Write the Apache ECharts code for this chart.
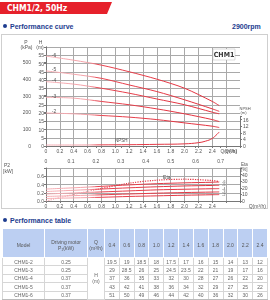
<!DOCTYPE html>
<html><head><meta charset="utf-8">
<script src="https://cdn.jsdelivr.net/npm/echarts@6/dist/echarts.min.js"></script>
<style>
html,body{margin:0;padding:0;width:270px;height:300px;overflow:hidden;background:#fff;font-family:'Liberation Sans',Arial,sans-serif;-webkit-font-smoothing:antialiased;}
#banner{position:absolute;left:0;top:2px;width:112px;height:12px;background:#e6212b;clip-path:polygon(0 0,100% 0,calc(100% - 5px) 100%,0 100%);}
#banner span{position:absolute;left:7px;top:1px;color:#fff;font-weight:bold;font-size:8.5px;line-height:10px;font-family:'Liberation Sans Narrow','DejaVu Sans Condensed','Roboto Condensed','Liberation Sans',sans-serif;font-stretch:condensed;}
.sec{position:absolute;left:3px;color:#1d3c8f;font-weight:bold;font-size:7px;line-height:8px;white-space:nowrap}
.sec i{display:inline-block;width:4px;height:4px;border-radius:50%;background:#1d3c8f;margin-right:3px;vertical-align:1px}
#rpm{position:absolute;left:232px;top:23px;color:#1d3c8f;font-weight:bold;font-size:7px;line-height:8px}
#box{position:absolute;left:1px;top:34px;width:265px;height:173px;border:1px solid #cfcfcf;}
#chart{position:absolute;left:0;top:0;width:270px;height:215px;opacity:0.999;will-change:transform;}
#tblwrap{position:absolute;left:2px;top:228px;width:266px;opacity:0.999;will-change:transform;}
#tbl{width:266px;border-collapse:collapse;table-layout:fixed;font-size:5px;color:#666;}
#tbl th{background:#bccff2;border:1px solid #fff;font-weight:normal;color:#555;height:25px;padding:3px 0 0 0;line-height:6px;text-align:center;}
#tbl td{border:1px solid #d6d6d6;height:7.4px;padding:0;line-height:6px;text-align:center;}
#tbl tbody tr:last-child td{border-bottom:1px solid #bbb}
</style></head>
<body>
<div id="banner"><span>CHM1/2, 50Hz</span></div>
<div class="sec" style="top:23px"><i></i>Performance curve</div>
<div id="rpm">2900rpm</div>
<div id="box"></div>
<div id="chart"></div>
<div class="sec" style="top:217px"><i></i>Performance table</div>
<div id="tblwrap"><table id="tbl"></table></div>
<script>
// ---------- data ----------
const curveNames = ['-2', '-3', '-4', '-5', '-6'];
const qCurve = [0, 0.4, 0.8, 1.2, 1.6, 2.0, 2.4, 2.5];          // m³/h
const headM2 = [20, 19.5, 18.5, 17.5, 16, 14, 12, 11.2];          // m
const headM3 = [29.5, 29, 27, 25, 22.5, 19.5, 16, 14.8];
const headM4 = [39, 37.5, 35, 32, 28.5, 25, 20.5, 19.5];
const headM5 = [45.5, 43.5, 41, 37, 33, 28, 22.5, 21];
const headM6 = [54.5, 52, 49, 45, 40.5, 35, 27, 24.5];
const qNpsh = [0, 0.4, 0.8, 1.2, 1.6, 2.0, 2.2, 2.3, 2.4, 2.5];
const npsh = [0.6, 0.6, 0.7, 0.8, 1.0, 1.3, 2.0, 2.9, 4.6, 8.5];   // m
const p2M2 = [0.06, 0.075, 0.09, 0.11, 0.125, 0.14, 0.152, 0.155]; // kW
const p2M3 = [0.11, 0.13, 0.15, 0.17, 0.19, 0.205, 0.217, 0.22];
const p2M4 = [0.17, 0.195, 0.22, 0.245, 0.27, 0.285, 0.297, 0.30];
const p2M5 = [0.23, 0.26, 0.29, 0.32, 0.345, 0.365, 0.377, 0.38];
const p2M6 = [0.29, 0.32, 0.355, 0.39, 0.42, 0.44, 0.455, 0.46];
const eta = [0, 10, 19, 27, 31.5, 33, 31, 29.5];                  // %

// tick labels
const qLabels = [0, 0.2, 0.4, 0.6, 0.8, 1.0, 1.2, 1.4, 1.6, 1.8, 2.0, 2.2, 2.4];
const lsLabels = [0, 0.1, 0.2, 0.3, 0.4, 0.5, 0.6, 0.7];
const hLabels = [0, 5, 10, 15, 20, 25, 30, 35, 40, 45, 50, 55];
const pLabels = [0, 100, 200, 300, 400, 500];
const npshLabels = [0, 4, 8, 12, 16];
const p2Labels = [0, 0.2, 0.4, 0.6];
const etaLabels = [0, 10, 20, 30, 40];

const tableModels = ['CHM1-2', 'CHM1-3', 'CHM1-4', 'CHM1-5', 'CHM1-6'];
const tableMotor = ['0.25', '0.25', '0.37', '0.37', '0.37'];
const tableQ = ['0.4', '0.6', '0.8', '1.0', '1.2', '1.4', '1.6', '1.8', '2.0', '2.2', '2.4'];
const tableH2 = ['19.5', '19', '18.5', '18', '17.5', '17', '16', '15', '14', '13', '12'];
const tableH3 = ['29', '28.5', '26', '25', '24.5', '23.5', '22', '21', '19', '17', '16'];
const tableH4 = ['37', '36', '35', '33', '32', '30', '28', '27', '26', '22', '20'];
const tableH5 = ['43', '42', '41', '38', '36', '34', '32', '29', '27', '25', '22'];
const tableH6 = ['51', '50', '49', '46', '44', '42', '40', '36', '32', '30', '26'];

// ---------- table ----------
(function(){
  const rows = [tableH2, tableH3, tableH4, tableH5, tableH6];
  let h = '<colgroup><col style="width:42px"><col style="width:43px"><col style="width:17px">';
  tableQ.forEach(()=>{ h += '<col>'; });
  h += '</colgroup><thead><tr><th>Model</th><th>Driving motor<br>P₂(kW)</th><th>Q<br>(m³/h)</th>';
  tableQ.forEach(q=>{ h += '<th>'+q+'</th>'; });
  h += '</tr></thead><tbody>';
  rows.forEach((r,i)=>{
    h += '<tr><td>'+tableModels[i]+'</td><td>'+tableMotor[i]+'</td>';
    if(i===0) h += '<td rowspan="5">H<br>(m)</td>';
    r.forEach(v=>{ h += '<td>'+v+'</td>'; });
    h += '</tr>';
  });
  h += '</tbody>';
  document.getElementById('tbl').innerHTML = h;
})();

// ---------- chart ----------
const H_MAX = 60, Q_MAX = 2.8, KPA_PER_M = 9.81;
const FONT = 'Liberation Sans, Arial, sans-serif';
const txt = {fontSize:5, color:'#555', fontFamily:FONT};
const axisLine = {show:true, lineStyle:{color:'#777', width:1}};
const tick = {show:true, length:2, lineStyle:{color:'#777'}};
const split = {show:true, lineStyle:{color:'#a9a9a9', width:1}};
function grad(){
  return new echarts.graphic.LinearGradient(0,0,1,0,[
    {offset:0,color:'#f6b0b6'},{offset:0.25,color:'#f4a0a7'},
    {offset:0.3,color:'#e8434f'},{offset:1,color:'#e12f3c'}]);
}
const near = (a,b)=>Math.abs(a-b)<1e-6;
function lbl(values, fmt){
  return Object.assign({margin:2, customValues:values,
    formatter: v => values.some(x=>near(x,v)) ? fmt(v) : ''}, txt);
}
const dec1 = v => near(v,0) ? '0' : v.toFixed(1);
const intf = v => String(Math.round(v));

const heads = [headM2, headM3, headM4, headM5, headM6];
const p2s = [p2M2, p2M3, p2M4, p2M5, p2M6];

const series = [];
heads.forEach((arr,i)=>{
  series.push({
    type:'line', xAxisIndex:0, yAxisIndex:0, smooth:0.3,
    symbol:'circle', symbolSize:0.1, showSymbol:true,
    itemStyle:{color:'#e12f3c'}, lineStyle:{width:1, color:grad()},
    label:{show:false},
    data: qCurve.map((q,j)=> j===0 ? {value:[q,arr[j]], label:{show:true, formatter:curveNames[i], position:'top', distance:0, offset:[8,1], fontSize:5, color:'#555'}} : [q,arr[j]])
  });
});
series.push({
  type:'line', xAxisIndex:0, yAxisIndex:0, smooth:0.4,
  symbol:'circle', symbolSize:0.1, showSymbol:true,
  itemStyle:{color:'#e12f3c'}, lineStyle:{width:1, color:grad()},
  label:{show:false},
  data: qNpsh.map((q,j)=> j===3 ? {value:[q,npsh[j]], label:{show:true, formatter:'NPSH', position:'top', distance:2, offset:[-8,0], fontSize:4.5, color:'#555'}} : [q,npsh[j]])
});
p2s.forEach((arr,i)=>{
  series.push({
    type:'line', xAxisIndex:3, yAxisIndex:3, smooth:0.3, showSymbol:false,
    lineStyle:{width:1, color:grad()},
    endLabel:{show:true, formatter:curveNames[i], fontSize:3.5, color:'#555', distance:3},
    data: qCurve.map((q,j)=>[q,arr[j]])
  });
});
series.push({
  type:'line', xAxisIndex:3, yAxisIndex:4, smooth:0.3,
  symbol:'circle', symbolSize:0.1, showSymbol:true,
  itemStyle:{color:'#e12f3c'}, lineStyle:{width:1.2, type:'dotted', color:grad()},
  label:{show:false},
  data: qCurve.map((q,j)=> j===4 ? {value:[q,eta[j]], label:{show:true, formatter:'Eta', position:'top', distance:1, offset:[10,0], fontSize:5, color:'#555'}} : [q,eta[j]])
});

function title(text, x, y, align, size){
  return {type:'text', x:x, y:y, z:50, silent:true,
    style:{text:text, fill:'#555', fontSize:size||5, fontFamily:FONT, align:align||'center', verticalAlign:'middle'}};
}

const option = {
  animation:false,
  textStyle:{fontFamily:FONT},
  grid:[
    {left:46, top:47, width:194, height:99},
    {left:240, top:116.3, width:1, height:29.7},
    {left:46, top:168, width:194, height:33}
  ],
  xAxis:[
    {type:'value', gridIndex:0, min:0, max:Q_MAX, interval:0.2, position:'bottom',
     axisLine:axisLine, axisTick:tick, axisLabel:lbl(qLabels, dec1),
     splitLine:Object.assign({showMaxLine:false, showMinLine:false}, split)},
    {type:'value', gridIndex:0, min:0, max:Q_MAX/3.6, interval:0.1, position:'bottom', offset:10,
     axisLine:axisLine, axisTick:tick, axisLabel:lbl(lsLabels, dec1),
     splitLine:{show:false},
     name:'Q(l/s)', nameLocation:'end', nameGap:-15,
     nameTextStyle:Object.assign({align:'left', verticalAlign:'top', padding:[2,0,0,0]}, txt)},
    {type:'value', gridIndex:1, show:false, min:0, max:1},
    {type:'value', gridIndex:2, min:0, max:Q_MAX, interval:0.2, position:'bottom',
     axisLine:axisLine, axisTick:tick, axisLabel:lbl(qLabels, dec1),
     splitLine:Object.assign({showMaxLine:false, showMinLine:false}, split),
     name:'Q(m³/h)', nameLocation:'end', nameGap:-17,
     nameTextStyle:Object.assign({align:'left', verticalAlign:'top', padding:[2,0,0,0]}, txt)}
  ],
  yAxis:[
    {type:'value', gridIndex:0, min:0, max:H_MAX, interval:5, position:'left',
     axisLine:axisLine, axisTick:tick, axisLabel:lbl(hLabels, intf),
     splitLine:Object.assign({showMinLine:false}, split)},
    {type:'value', gridIndex:0, min:0, max:H_MAX*KPA_PER_M, interval:100, position:'left', offset:13,
     axisLine:axisLine, axisTick:tick, axisLabel:lbl(pLabels, intf),
     splitLine:{show:false}},
    {type:'value', gridIndex:1, min:0, max:18, interval:4, position:'right',
     axisLine:axisLine, axisTick:tick, axisLabel:lbl(npshLabels, intf),
     splitLine:{show:false}},
    {type:'value', gridIndex:2, min:0, max:0.8, interval:0.2, position:'left',
     axisLine:axisLine, axisTick:tick, axisLabel:lbl(p2Labels, v=>v.toFixed(1)),
     splitLine:Object.assign({showMinLine:false}, split)},
    {type:'value', gridIndex:2, min:0, max:50, interval:10, position:'right',
     axisLine:axisLine, axisTick:tick, axisLabel:lbl(etaLabels, intf),
     splitLine:{show:false}}
  ],
  graphic:[
    title('P', 26, 41.5), title('(kPa)', 26.5, 46.5),
    title('H', 40.5, 41.5), title('(m)', 40, 46.5),
    title('NPSH', 239.5, 108.5, 'left', 4), title('(m)', 240.5, 112.8, 'left', 4),
    title('Q(m³/h)', 220.5, 151.2, 'left', 4.8),
    title('P2', 4, 165, 'left'), title('[kW]', 3, 170.5, 'left'),
    title('Eta', 241, 164.3, 'left', 4.5), title('[%]', 241, 169.3, 'left', 4.5),
    {type:'rect', x:213, y:49, shape:{width:22, height:11}, style:{fill:'#fff', stroke:'#bbb', lineWidth:0.5}, z:100},
    {type:'text', x:224, y:54.7, z:101, style:{text:'CHM1', fill:'#333', align:'center', verticalAlign:'middle', font:'bold 7px "Liberation Sans Narrow","DejaVu Sans Condensed","Liberation Sans",sans-serif'}}
  ],
  series: series
};
const chart = echarts.init(document.getElementById('chart'), null, {renderer:'svg'});
chart.setOption(option);
</script>
</body></html>
